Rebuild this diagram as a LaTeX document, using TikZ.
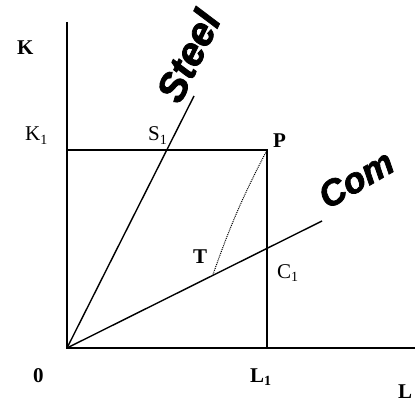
\documentclass[tikz,border=0pt]{standalone}
\usepackage{fontspec}
\setmainfont{Liberation Serif}
\newfontfamily\heavyfont[FakeBold=2]{Liberation Sans}
\newcommand{\lsub}[1]{\raisebox{-0.35ex}{\fontsize{14}{14}\selectfont #1}}
\begin{document}
\begin{tikzpicture}[x=1pt,y=-1pt,
  axis/.style={line width=1.4pt},
  ray/.style={line width=1.4pt},
  lbl/.style={inner sep=0pt,anchor=base west,font=\fontsize{21}{21}\selectfont},
  blbl/.style={lbl,font=\fontsize{21}{21}\selectfont\bfseries},
  tag/.style={inner sep=0pt,anchor=center}]
\useasboundingbox (0,0) rectangle (415,401);
\coordinate (O) at (67,348);
\coordinate (Ytop) at (67,22);
\coordinate (Xend) at (415,348);
\coordinate (K1p) at (67,150);
\coordinate (P) at (267,150);
\coordinate (L1p) at (267,348);
\coordinate (Send) at (194,96);
\coordinate (Cend) at (322,221);
\coordinate (T) at (213,274.5);
\draw[axis] (Ytop) -- (O) -- (Xend);
\draw[ray] (K1p) -- (P) -- (L1p);
\draw[ray] (O) -- (Send);
\draw[ray] (O) -- (Cend);
\draw[densely dotted, line width=1pt] (T) to[bend left=4] (P);
\node[blbl] (k) at (17,55) {K};
\node[lbl] (k1) at (25,141) {K\lsub{1}};
\node[lbl] (s1) at (148,141) {S\lsub{1}};
\node[blbl] (p) at (273,147) {P};
\node[blbl] (t) at (193,263) {T};
\node[lbl] (c1) at (277,278) {C\lsub{1}};
\node[blbl] (o) at (33,382) {0};
\node[blbl] (l1) at (250,382) {L\lsub{1}};
\node[blbl] (l) at (398,398) {L};
\node[tag,rotate=64,font=\heavyfont\bfseries\itshape\fontsize{40}{40}\selectfont] (steel) at (188,56) {Steel};
\node[tag,rotate=30,font=\heavyfont\bfseries\itshape\fontsize{36}{36}\selectfont] (com) at (356,179) {Com};
\end{tikzpicture}
\end{document}
